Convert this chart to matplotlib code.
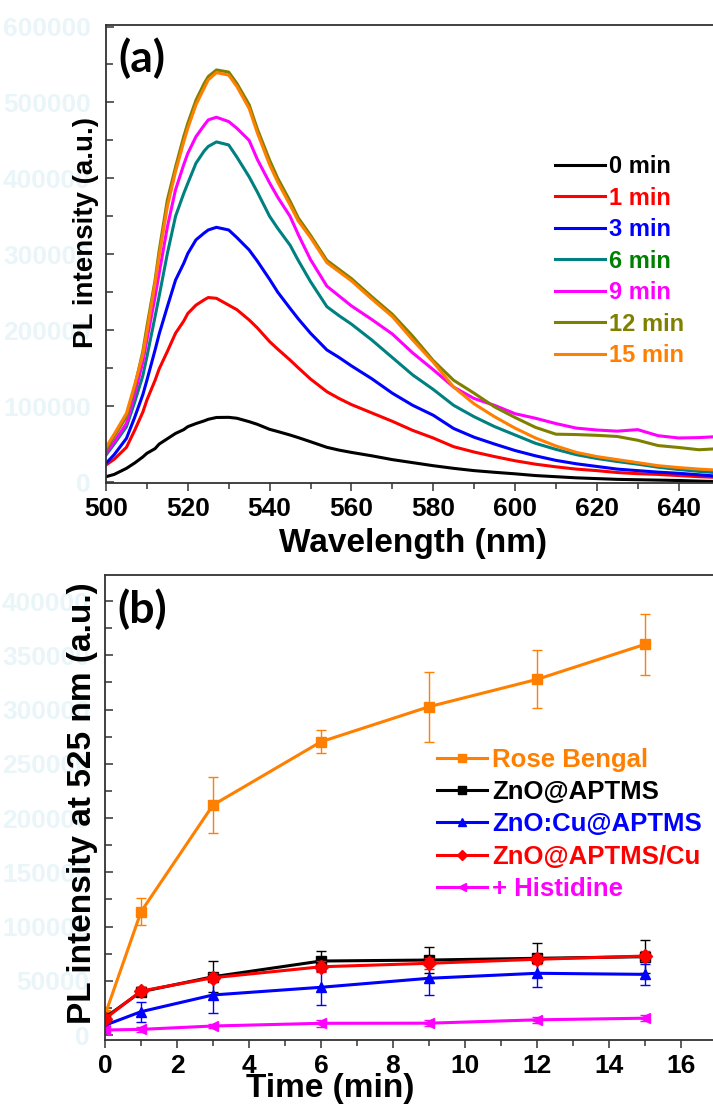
import matplotlib
matplotlib.use("Agg")
from matplotlib import pyplot as plt
from matplotlib import font_manager
from matplotlib.ticker import MultipleLocator

# ---- panel (a): PL spectra ----
wavelength = [500, 502, 505, 507, 509, 510, 512, 513, 515, 517, 519, 520, 522, 524, 525, 527, 530, 532,
              535, 537, 540, 542, 545, 547, 550, 554, 557, 560, 565, 570, 575, 580, 585, 590, 595, 600,
              605, 610, 615, 620, 625, 630, 635, 640, 645, 650]

pl_0 = [7000, 10000, 18000, 25000, 33000, 37800, 44000, 50000, 57000, 64000, 69000, 72900, 77000, 80500,
        82600, 85000, 85200, 84000, 79500, 76000, 69400, 66500, 61900, 58500, 53100, 45700, 42000,
        39000, 34500, 29500, 25500, 21500, 18000, 15000, 12800, 10800, 8500, 7000, 5500, 4500, 3500,
        3000, 2500, 2000, 1200, 500]
pl_1 = [22400, 30000, 45700, 68000, 92000, 108000, 134000, 149000, 172000, 196000, 212000, 222000,
        233000, 240000, 243000, 242000, 233000, 227000, 213500, 203000, 185000, 175000, 160700, 150500,
        135700, 119000, 110000, 102000, 91000, 80000, 68000, 58000, 46500, 39500, 33500, 28000, 23500,
        20000, 17000, 15000, 12500, 11000, 10000, 8500, 7000, 6000]
pl_3 = [24600, 36000, 57500, 85000, 115000, 134000, 174000, 195000, 231000, 266000, 288000, 301000,
        319000, 328000, 332000, 335500, 332000, 322000, 305700, 291000, 267000, 250000, 228800, 215000,
        196000, 174000, 164000, 153000, 136000, 117000, 101000, 88000, 70500, 59000, 50000, 41500,
        34500, 28500, 24000, 20500, 17000, 15000, 13000, 11500, 9500, 7500]
pl_6 = [35600, 50000, 72900, 105000, 140000, 165000, 218000, 245000, 301000, 350000, 380000, 393500,
        420000, 436000, 442000, 448000, 444000, 428000, 402000, 382000, 350000, 334000, 312000, 292000,
        264000, 231000, 219000, 208000, 187000, 164000, 141000, 122000, 101000, 86000, 73000, 62000,
        51000, 43000, 36000, 31000, 27000, 23500, 19500, 16500, 14000, 12000]
pl_9 = [37800, 53000, 77300, 115000, 158000, 187000, 244000, 275000, 336000, 385000, 418000, 433000,
        455000, 470000, 477000, 480500, 474800, 466000, 450000, 425000, 394000, 375000, 350000, 326000,
        293000, 258000, 245000, 232000, 214000, 195000, 170000, 148000, 125000, 110000, 101000, 90000,
        84000, 77000, 71000, 68500, 67000, 69000, 61000, 58000, 58500, 60000]
pl_12 = [42200, 60000, 86100, 125000, 172000, 204700, 266000, 305000, 371600, 415000, 455000, 472600,
         503000, 525000, 534100, 542800, 540000, 525000, 497000, 465000, 424000, 400000, 370000, 348000,
         325000, 292000, 280000, 268000, 244000, 221000, 192000, 160000, 134000, 117000, 99000, 85000,
         72000, 63000, 62500, 61500, 60000, 55000, 48000, 45500, 42500, 44000]
pl_15 = [45700, 63000, 90500, 128000, 168000, 198000, 262000, 298000, 362800, 409000, 448000, 466000,
         497000, 519000, 529700, 539300, 536000, 521000, 492000, 460000, 418000, 395000, 365000, 344000,
         322000, 289000, 277000, 265000, 241000, 218000, 187000, 158000, 125000, 103000, 86000, 71000,
         58000, 47500, 39000, 33500, 29500, 25500, 21500, 19000, 17000, 15500]

spectra = [pl_0, pl_1, pl_3, pl_6, pl_9, pl_12, pl_15]
spec_labels = ['0 min', '1 min', '3 min', '6 min', '9 min', '12 min', '15 min']
spec_colors = ['#000000', '#FF0000', '#0000FF', '#008080', '#FF00FF', '#808000', '#FF7F00']
spec_text_colors = ['#000000', '#FF0000', '#0000FF', '#008000', '#FF00FF', '#808000', '#FF7F00']

# ---- panel (b): PL at 525 nm vs time ----
time_min = [0, 1, 3, 6, 9, 12, 15]
rose_bengal = [18400, 113600, 212000, 270300, 302600, 327800, 360100]
rose_bengal_err = [3000, 12400, 26100, 10400, 32300, 26700, 28400]
zno_aptms = [16000, 39900, 53700, 68200, 69100, 70700, 72200]
zno_aptms_err = [3000, 4000, 14500, 9500, 11700, 13800, 15400]
zno_cu_aptms = [9000, 21500, 36900, 44000, 52300, 56900, 55900]
zno_cu_aptms_err = [3000, 9200, 16300, 16300, 15400, 12300, 9900]
zno_aptms_cu = [15000, 40500, 52800, 62900, 66100, 69800, 72800]
zno_aptms_cu_err = [3000, 4000, 4000, 5000, 5000, 4000, 5000]
histidine = [4600, 5200, 8300, 10800, 10900, 14000, 15500]
histidine_err = [2000, 2000, 2000, 3000, 3000, 3000, 3000]

series_b = [
    ('Rose Bengal', rose_bengal, rose_bengal_err, '#FF7F00', 's'),
    ('ZnO@APTMS', zno_aptms, zno_aptms_err, '#000000', 's'),
    ('ZnO:Cu@APTMS', zno_cu_aptms, zno_cu_aptms_err, '#0000FF', '^'),
    ('ZnO@APTMS/Cu', zno_aptms_cu, zno_aptms_cu_err, '#FF0000', 'D'),
    ('+ Histidine', histidine, histidine_err, '#FF00FF', '<'),
]

names = {f.name for f in font_manager.fontManager.ttflist}
tick_font = 'Liberation Sans Narrow' if 'Liberation Sans Narrow' in names else 'Liberation Sans'
plt.rcParams['font.family'] = ['Liberation Sans', 'DejaVu Sans']
plt.rcParams['font.weight'] = 'bold'

W, H = 713, 1104
fig = plt.figure(figsize=(W / 100, H / 100), dpi=100)
ax1 = fig.add_axes([106 / W, (H - 483) / H, 613.5 / W, 458 / H])
ax2 = fig.add_axes([105 / W, (H - 1040) / H, 630 / W, 465 / H])

faint = '#e9f5f8'


def style_axes(ax):
    for s in ax.spines.values():
        s.set_color('#333333')
        s.set_linewidth(1.3)
    ax.tick_params(axis='x', which='both', direction='out', top=False, colors='#333333',
                   labelcolor='black', pad=4, width=1.1)
    ax.tick_params(axis='x', which='major', length=6)
    ax.tick_params(axis='x', which='minor', length=4)
    ax.tick_params(axis='y', which='both', direction='in', right=False, colors='#333333',
                   labelcolor=faint, pad=11, width=1.1)
    ax.tick_params(axis='y', which='major', length=6)
    ax.tick_params(axis='y', which='minor', length=5)
    for lab in ax.get_xticklabels() + ax.get_yticklabels():
        lab.set_fontfamily(tick_font)
        lab.set_fontweight('bold')
        lab.set_fontsize(19)


# panel (a)
for vals, lab, col in zip(spectra, spec_labels, spec_colors):
    ax1.plot(wavelength, vals, color=col, lw=2.2, label=lab)
ax1.set_xlim(500, 650)
ax1.set_ylim(-1300, 602000)
ax1.xaxis.set_major_locator(MultipleLocator(20))
ax1.xaxis.set_minor_locator(MultipleLocator(10))
ax1.yaxis.set_major_locator(MultipleLocator(100000))
ax1.yaxis.set_minor_locator(MultipleLocator(50000))
style_axes(ax1)
ax1.set_xlabel('Wavelength (nm)', fontsize=24, fontweight='bold', labelpad=5)
ax1.set_ylabel('PL intensity (a.u.)', fontsize=20, fontweight='bold')
ax1.yaxis.set_label_coords(-0.012, 0.548)
ax1.text(0.02, 0.972, '(a)', transform=ax1.transAxes, fontsize=32, fontweight='bold',
         family=['Lato', 'DejaVu Sans'], va='top', ha='left')
leg1 = ax1.legend(loc='upper left', bbox_to_anchor=(0.732, 0.716), frameon=False, fontsize=17,
                  handlelength=2.1, handletextpad=0.2, labelspacing=0.36, borderpad=0,
                  borderaxespad=0)
for txt, col in zip(leg1.get_texts(), spec_text_colors):
    txt.set_color(col)
    txt.set_fontweight('bold')

# panel (b)
handles = []
for lab, vals, err, col, mk in series_b:
    ax2.errorbar(time_min, vals, yerr=err, fmt='none', ecolor=col, elinewidth=1, capsize=3.5,
                 capthick=1)
    line, = ax2.plot(time_min, vals, color=col, lw=2.2, marker=mk, markersize=7, label=lab)
    handles.append(line)
ax2.set_xlim(0, 17.5)
ax2.set_ylim(-4600, 424000)
ax2.xaxis.set_major_locator(MultipleLocator(2))
ax2.xaxis.set_minor_locator(MultipleLocator(1))
ax2.yaxis.set_major_locator(MultipleLocator(50000))
ax2.yaxis.set_minor_locator(MultipleLocator(25000))
style_axes(ax2)
ax2.set_xlabel('Time (min)', fontsize=24, fontweight='bold')
ax2.xaxis.set_label_coords(0.357, -0.071)
ax2.set_ylabel('PL intensity at 525 nm (a.u.)', fontsize=24, fontweight='bold')
ax2.yaxis.set_label_coords(-0.011, 0.51)
ax2.text(0.02, 0.972, '(b)', transform=ax2.transAxes, fontsize=32, fontweight='bold',
         family=['Lato', 'DejaVu Sans'], va='top', ha='left')
leg2 = ax2.legend(handles=handles, loc='upper left', bbox_to_anchor=(0.527, 0.628), frameon=False,
                  fontsize=18.5, handlelength=1.95, handletextpad=0.2, labelspacing=0.32,
                  borderpad=0, borderaxespad=0, markerscale=0.75)
for txt, (_, _, _, col, _) in zip(leg2.get_texts(), series_b):
    txt.set_color(col)
    txt.set_fontweight('bold')

fig.savefig('out.png', dpi=100)
